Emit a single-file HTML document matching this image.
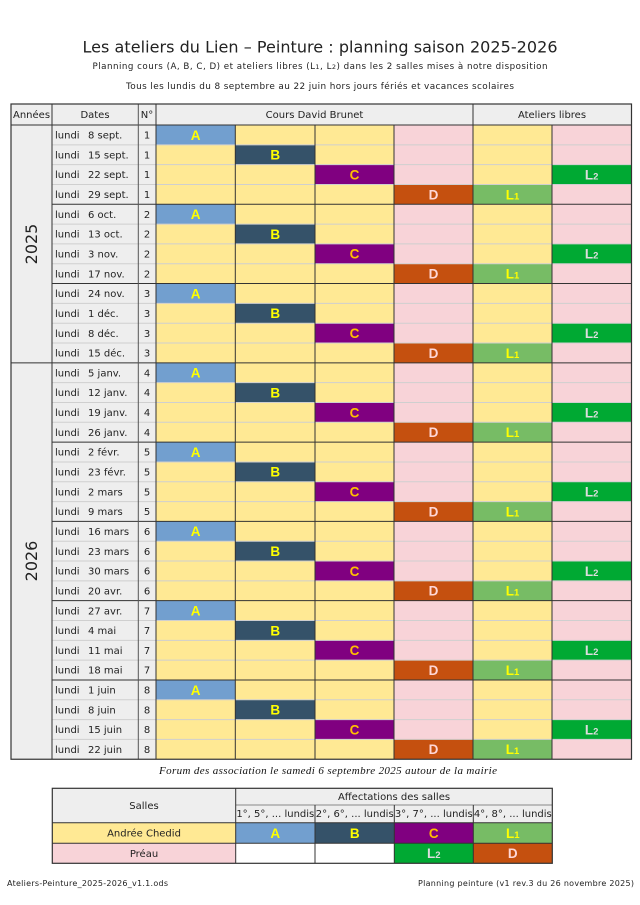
<!DOCTYPE html>
<html><head><meta charset="utf-8"><style>
html,body{margin:0;padding:0;background:#fff;}
svg{display:block;}
.t{font-family:"DejaVu Sans","Liberation Sans",sans-serif;fill:#222;}
.d{font-family:"DejaVu Sans","Liberation Sans",sans-serif;font-size:10px;fill:#222;}
.n{font-family:"DejaVu Sans","Liberation Sans",sans-serif;font-size:10px;fill:#222;text-anchor:middle;}
.lt{font-family:"Liberation Sans","DejaVu Sans",sans-serif;font-weight:bold;font-size:13.5px;text-anchor:middle;}
.ll{stroke:#cfcfcf;stroke-width:1;}
.dk{stroke:#333;stroke-width:1;}
</style></head><body>
<svg width="640" height="905" viewBox="0 0 640 905" xmlns="http://www.w3.org/2000/svg">
<rect width="640" height="905" fill="#fff"/>
<!-- titles -->
<text class="t" x="320" y="52.5" font-size="16" text-anchor="middle" textLength="475" fill="#111">Les ateliers du Lien – Peinture : planning saison 2025-2026</text>
<text class="t" x="320" y="69" font-size="8.7" text-anchor="middle" textLength="455" fill="#333">Planning cours (A, B, C, D) et ateliers libres (L<tspan font-size="6.5">1</tspan>, L<tspan font-size="6.5">2</tspan>) dans les 2 salles mises à notre disposition</text>
<text class="t" x="320" y="89" font-size="8.9" text-anchor="middle" textLength="388" fill="#333">Tous les lundis du 8 septembre au 22 juin hors jours fériés et vacances scolaires</text>

<!-- backgrounds -->
<rect x="11" y="104" width="620.5" height="21" fill="#eeeeee"/>
<rect x="11" y="125" width="145" height="634.24" fill="#eeeeee"/>
<rect x="156" y="125" width="238" height="634.24" fill="#ffe994"/>
<rect x="394" y="125" width="79" height="634.24" fill="#f8d3d8"/>
<rect x="473" y="125" width="79" height="634.24" fill="#ffe994"/>
<rect x="552" y="125" width="79.5" height="634.24" fill="#f8d3d8"/>

<!-- header text -->
<text class="d" x="13" y="118">Années</text>
<text class="n" x="95" y="118">Dates</text>
<text class="n" x="147" y="118">N°</text>
<text class="n" x="314.5" y="118">Cours David Brunet</text>
<text class="n" x="552" y="118">Ateliers libres</text>

<!-- years -->
<text class="t" font-size="16" fill="#333" text-anchor="middle" transform="translate(37,244) rotate(-90)">2025</text>
<text class="t" font-size="16" fill="#333" text-anchor="middle" transform="translate(37,561) rotate(-90)">2026</text>

<!-- group 0 -->
<g transform="translate(0,125)">
<rect x="156" y="0" width="79.3" height="19.82" fill="#729fcf"/>
<rect x="235.3" y="19.82" width="79.7" height="19.82" fill="#355269"/>
<rect x="315" y="39.64" width="79" height="19.82" fill="#800080"/>
<rect x="552" y="39.64" width="79.5" height="19.82" fill="#00a933"/>
<rect x="394" y="59.46" width="79" height="19.82" fill="#c5500f"/>
<rect x="473" y="59.46" width="79" height="19.82" fill="#77bc65"/>
<line class="ll" x1="52" y1="19.82" x2="631.5" y2="19.82"/><line class="ll" x1="52" y1="39.64" x2="631.5" y2="39.64"/><line class="ll" x1="52" y1="59.46" x2="631.5" y2="59.46"/>
<text class="lt" x="195.6" y="14.8" fill="#ffff00">A</text>
<text class="lt" x="275.2" y="34.62" fill="#ffff00">B</text>
<text class="lt" x="354.5" y="54.44" fill="#ffbf00">C</text>
<text class="lt" x="591.7" y="54.44" fill="#dddddd">L<tspan font-size="9.5">2</tspan></text>
<text class="lt" x="433.5" y="74.26" fill="#ffd7d7">D</text>
<text class="lt" x="512.5" y="74.26" fill="#ffff00">L<tspan font-size="9.5">1</tspan></text>
<text class="d" x="55" y="13.6">lundi</text><text class="d" x="88" y="13.6">8 sept.</text><text class="n" x="147" y="13.6">1</text>
<text class="d" x="55" y="33.42">lundi</text><text class="d" x="88" y="33.42">15 sept.</text><text class="n" x="147" y="33.42">1</text>
<text class="d" x="55" y="53.24">lundi</text><text class="d" x="88" y="53.24">22 sept.</text><text class="n" x="147" y="53.24">1</text>
<text class="d" x="55" y="73.06">lundi</text><text class="d" x="88" y="73.06">29 sept.</text><text class="n" x="147" y="73.06">1</text>
</g>
<!-- group 1 -->
<g transform="translate(0,204.28)">
<rect x="156" y="0" width="79.3" height="19.82" fill="#729fcf"/>
<rect x="235.3" y="19.82" width="79.7" height="19.82" fill="#355269"/>
<rect x="315" y="39.64" width="79" height="19.82" fill="#800080"/>
<rect x="552" y="39.64" width="79.5" height="19.82" fill="#00a933"/>
<rect x="394" y="59.46" width="79" height="19.82" fill="#c5500f"/>
<rect x="473" y="59.46" width="79" height="19.82" fill="#77bc65"/>
<line class="ll" x1="52" y1="19.82" x2="631.5" y2="19.82"/><line class="ll" x1="52" y1="39.64" x2="631.5" y2="39.64"/><line class="ll" x1="52" y1="59.46" x2="631.5" y2="59.46"/>
<text class="lt" x="195.6" y="14.8" fill="#ffff00">A</text>
<text class="lt" x="275.2" y="34.62" fill="#ffff00">B</text>
<text class="lt" x="354.5" y="54.44" fill="#ffbf00">C</text>
<text class="lt" x="591.7" y="54.44" fill="#dddddd">L<tspan font-size="9.5">2</tspan></text>
<text class="lt" x="433.5" y="74.26" fill="#ffd7d7">D</text>
<text class="lt" x="512.5" y="74.26" fill="#ffff00">L<tspan font-size="9.5">1</tspan></text>
<text class="d" x="55" y="13.6">lundi</text><text class="d" x="88" y="13.6">6 oct.</text><text class="n" x="147" y="13.6">2</text>
<text class="d" x="55" y="33.42">lundi</text><text class="d" x="88" y="33.42">13 oct.</text><text class="n" x="147" y="33.42">2</text>
<text class="d" x="55" y="53.24">lundi</text><text class="d" x="88" y="53.24">3 nov.</text><text class="n" x="147" y="53.24">2</text>
<text class="d" x="55" y="73.06">lundi</text><text class="d" x="88" y="73.06">17 nov.</text><text class="n" x="147" y="73.06">2</text>
</g>
<!-- group 2 -->
<g transform="translate(0,283.56)">
<rect x="156" y="0" width="79.3" height="19.82" fill="#729fcf"/>
<rect x="235.3" y="19.82" width="79.7" height="19.82" fill="#355269"/>
<rect x="315" y="39.64" width="79" height="19.82" fill="#800080"/>
<rect x="552" y="39.64" width="79.5" height="19.82" fill="#00a933"/>
<rect x="394" y="59.46" width="79" height="19.82" fill="#c5500f"/>
<rect x="473" y="59.46" width="79" height="19.82" fill="#77bc65"/>
<line class="ll" x1="52" y1="19.82" x2="631.5" y2="19.82"/><line class="ll" x1="52" y1="39.64" x2="631.5" y2="39.64"/><line class="ll" x1="52" y1="59.46" x2="631.5" y2="59.46"/>
<text class="lt" x="195.6" y="14.8" fill="#ffff00">A</text>
<text class="lt" x="275.2" y="34.62" fill="#ffff00">B</text>
<text class="lt" x="354.5" y="54.44" fill="#ffbf00">C</text>
<text class="lt" x="591.7" y="54.44" fill="#dddddd">L<tspan font-size="9.5">2</tspan></text>
<text class="lt" x="433.5" y="74.26" fill="#ffd7d7">D</text>
<text class="lt" x="512.5" y="74.26" fill="#ffff00">L<tspan font-size="9.5">1</tspan></text>
<text class="d" x="55" y="13.6">lundi</text><text class="d" x="88" y="13.6">24 nov.</text><text class="n" x="147" y="13.6">3</text>
<text class="d" x="55" y="33.42">lundi</text><text class="d" x="88" y="33.42">1 déc.</text><text class="n" x="147" y="33.42">3</text>
<text class="d" x="55" y="53.24">lundi</text><text class="d" x="88" y="53.24">8 déc.</text><text class="n" x="147" y="53.24">3</text>
<text class="d" x="55" y="73.06">lundi</text><text class="d" x="88" y="73.06">15 déc.</text><text class="n" x="147" y="73.06">3</text>
</g>
<!-- group 3 -->
<g transform="translate(0,362.84)">
<rect x="156" y="0" width="79.3" height="19.82" fill="#729fcf"/>
<rect x="235.3" y="19.82" width="79.7" height="19.82" fill="#355269"/>
<rect x="315" y="39.64" width="79" height="19.82" fill="#800080"/>
<rect x="552" y="39.64" width="79.5" height="19.82" fill="#00a933"/>
<rect x="394" y="59.46" width="79" height="19.82" fill="#c5500f"/>
<rect x="473" y="59.46" width="79" height="19.82" fill="#77bc65"/>
<line class="ll" x1="52" y1="19.82" x2="631.5" y2="19.82"/><line class="ll" x1="52" y1="39.64" x2="631.5" y2="39.64"/><line class="ll" x1="52" y1="59.46" x2="631.5" y2="59.46"/>
<text class="lt" x="195.6" y="14.8" fill="#ffff00">A</text>
<text class="lt" x="275.2" y="34.62" fill="#ffff00">B</text>
<text class="lt" x="354.5" y="54.44" fill="#ffbf00">C</text>
<text class="lt" x="591.7" y="54.44" fill="#dddddd">L<tspan font-size="9.5">2</tspan></text>
<text class="lt" x="433.5" y="74.26" fill="#ffd7d7">D</text>
<text class="lt" x="512.5" y="74.26" fill="#ffff00">L<tspan font-size="9.5">1</tspan></text>
<text class="d" x="55" y="13.6">lundi</text><text class="d" x="88" y="13.6">5 janv.</text><text class="n" x="147" y="13.6">4</text>
<text class="d" x="55" y="33.42">lundi</text><text class="d" x="88" y="33.42">12 janv.</text><text class="n" x="147" y="33.42">4</text>
<text class="d" x="55" y="53.24">lundi</text><text class="d" x="88" y="53.24">19 janv.</text><text class="n" x="147" y="53.24">4</text>
<text class="d" x="55" y="73.06">lundi</text><text class="d" x="88" y="73.06">26 janv.</text><text class="n" x="147" y="73.06">4</text>
</g>
<!-- group 4 -->
<g transform="translate(0,442.12)">
<rect x="156" y="0" width="79.3" height="19.82" fill="#729fcf"/>
<rect x="235.3" y="19.82" width="79.7" height="19.82" fill="#355269"/>
<rect x="315" y="39.64" width="79" height="19.82" fill="#800080"/>
<rect x="552" y="39.64" width="79.5" height="19.82" fill="#00a933"/>
<rect x="394" y="59.46" width="79" height="19.82" fill="#c5500f"/>
<rect x="473" y="59.46" width="79" height="19.82" fill="#77bc65"/>
<line class="ll" x1="52" y1="19.82" x2="631.5" y2="19.82"/><line class="ll" x1="52" y1="39.64" x2="631.5" y2="39.64"/><line class="ll" x1="52" y1="59.46" x2="631.5" y2="59.46"/>
<text class="lt" x="195.6" y="14.8" fill="#ffff00">A</text>
<text class="lt" x="275.2" y="34.62" fill="#ffff00">B</text>
<text class="lt" x="354.5" y="54.44" fill="#ffbf00">C</text>
<text class="lt" x="591.7" y="54.44" fill="#dddddd">L<tspan font-size="9.5">2</tspan></text>
<text class="lt" x="433.5" y="74.26" fill="#ffd7d7">D</text>
<text class="lt" x="512.5" y="74.26" fill="#ffff00">L<tspan font-size="9.5">1</tspan></text>
<text class="d" x="55" y="13.6">lundi</text><text class="d" x="88" y="13.6">2 févr.</text><text class="n" x="147" y="13.6">5</text>
<text class="d" x="55" y="33.42">lundi</text><text class="d" x="88" y="33.42">23 févr.</text><text class="n" x="147" y="33.42">5</text>
<text class="d" x="55" y="53.24">lundi</text><text class="d" x="88" y="53.24">2 mars</text><text class="n" x="147" y="53.24">5</text>
<text class="d" x="55" y="73.06">lundi</text><text class="d" x="88" y="73.06">9 mars</text><text class="n" x="147" y="73.06">5</text>
</g>
<!-- group 5 -->
<g transform="translate(0,521.40)">
<rect x="156" y="0" width="79.3" height="19.82" fill="#729fcf"/>
<rect x="235.3" y="19.82" width="79.7" height="19.82" fill="#355269"/>
<rect x="315" y="39.64" width="79" height="19.82" fill="#800080"/>
<rect x="552" y="39.64" width="79.5" height="19.82" fill="#00a933"/>
<rect x="394" y="59.46" width="79" height="19.82" fill="#c5500f"/>
<rect x="473" y="59.46" width="79" height="19.82" fill="#77bc65"/>
<line class="ll" x1="52" y1="19.82" x2="631.5" y2="19.82"/><line class="ll" x1="52" y1="39.64" x2="631.5" y2="39.64"/><line class="ll" x1="52" y1="59.46" x2="631.5" y2="59.46"/>
<text class="lt" x="195.6" y="14.8" fill="#ffff00">A</text>
<text class="lt" x="275.2" y="34.62" fill="#ffff00">B</text>
<text class="lt" x="354.5" y="54.44" fill="#ffbf00">C</text>
<text class="lt" x="591.7" y="54.44" fill="#dddddd">L<tspan font-size="9.5">2</tspan></text>
<text class="lt" x="433.5" y="74.26" fill="#ffd7d7">D</text>
<text class="lt" x="512.5" y="74.26" fill="#ffff00">L<tspan font-size="9.5">1</tspan></text>
<text class="d" x="55" y="13.6">lundi</text><text class="d" x="88" y="13.6">16 mars</text><text class="n" x="147" y="13.6">6</text>
<text class="d" x="55" y="33.42">lundi</text><text class="d" x="88" y="33.42">23 mars</text><text class="n" x="147" y="33.42">6</text>
<text class="d" x="55" y="53.24">lundi</text><text class="d" x="88" y="53.24">30 mars</text><text class="n" x="147" y="53.24">6</text>
<text class="d" x="55" y="73.06">lundi</text><text class="d" x="88" y="73.06">20 avr.</text><text class="n" x="147" y="73.06">6</text>
</g>
<!-- group 6 -->
<g transform="translate(0,600.68)">
<rect x="156" y="0" width="79.3" height="19.82" fill="#729fcf"/>
<rect x="235.3" y="19.82" width="79.7" height="19.82" fill="#355269"/>
<rect x="315" y="39.64" width="79" height="19.82" fill="#800080"/>
<rect x="552" y="39.64" width="79.5" height="19.82" fill="#00a933"/>
<rect x="394" y="59.46" width="79" height="19.82" fill="#c5500f"/>
<rect x="473" y="59.46" width="79" height="19.82" fill="#77bc65"/>
<line class="ll" x1="52" y1="19.82" x2="631.5" y2="19.82"/><line class="ll" x1="52" y1="39.64" x2="631.5" y2="39.64"/><line class="ll" x1="52" y1="59.46" x2="631.5" y2="59.46"/>
<text class="lt" x="195.6" y="14.8" fill="#ffff00">A</text>
<text class="lt" x="275.2" y="34.62" fill="#ffff00">B</text>
<text class="lt" x="354.5" y="54.44" fill="#ffbf00">C</text>
<text class="lt" x="591.7" y="54.44" fill="#dddddd">L<tspan font-size="9.5">2</tspan></text>
<text class="lt" x="433.5" y="74.26" fill="#ffd7d7">D</text>
<text class="lt" x="512.5" y="74.26" fill="#ffff00">L<tspan font-size="9.5">1</tspan></text>
<text class="d" x="55" y="13.6">lundi</text><text class="d" x="88" y="13.6">27 avr.</text><text class="n" x="147" y="13.6">7</text>
<text class="d" x="55" y="33.42">lundi</text><text class="d" x="88" y="33.42">4 mai</text><text class="n" x="147" y="33.42">7</text>
<text class="d" x="55" y="53.24">lundi</text><text class="d" x="88" y="53.24">11 mai</text><text class="n" x="147" y="53.24">7</text>
<text class="d" x="55" y="73.06">lundi</text><text class="d" x="88" y="73.06">18 mai</text><text class="n" x="147" y="73.06">7</text>
</g>
<!-- group 7 -->
<g transform="translate(0,679.96)">
<rect x="156" y="0" width="79.3" height="19.82" fill="#729fcf"/>
<rect x="235.3" y="19.82" width="79.7" height="19.82" fill="#355269"/>
<rect x="315" y="39.64" width="79" height="19.82" fill="#800080"/>
<rect x="552" y="39.64" width="79.5" height="19.82" fill="#00a933"/>
<rect x="394" y="59.46" width="79" height="19.82" fill="#c5500f"/>
<rect x="473" y="59.46" width="79" height="19.82" fill="#77bc65"/>
<line class="ll" x1="52" y1="19.82" x2="631.5" y2="19.82"/><line class="ll" x1="52" y1="39.64" x2="631.5" y2="39.64"/><line class="ll" x1="52" y1="59.46" x2="631.5" y2="59.46"/>
<text class="lt" x="195.6" y="14.8" fill="#ffff00">A</text>
<text class="lt" x="275.2" y="34.62" fill="#ffff00">B</text>
<text class="lt" x="354.5" y="54.44" fill="#ffbf00">C</text>
<text class="lt" x="591.7" y="54.44" fill="#dddddd">L<tspan font-size="9.5">2</tspan></text>
<text class="lt" x="433.5" y="74.26" fill="#ffd7d7">D</text>
<text class="lt" x="512.5" y="74.26" fill="#ffff00">L<tspan font-size="9.5">1</tspan></text>
<text class="d" x="55" y="13.6">lundi</text><text class="d" x="88" y="13.6">1 juin</text><text class="n" x="147" y="13.6">8</text>
<text class="d" x="55" y="33.42">lundi</text><text class="d" x="88" y="33.42">8 juin</text><text class="n" x="147" y="33.42">8</text>
<text class="d" x="55" y="53.24">lundi</text><text class="d" x="88" y="53.24">15 juin</text><text class="n" x="147" y="53.24">8</text>
<text class="d" x="55" y="73.06">lundi</text><text class="d" x="88" y="73.06">22 juin</text><text class="n" x="147" y="73.06">8</text>
</g>

<!-- group (dark) horizontal lines -->
<line class="dk" x1="11" y1="125" x2="631.5" y2="125"/>
<line class="dk" x1="52" y1="204.28" x2="631.5" y2="204.28"/>
<line class="dk" x1="52" y1="283.56" x2="631.5" y2="283.56"/>
<line class="dk" x1="11" y1="362.84" x2="631.5" y2="362.84"/>
<line class="dk" x1="52" y1="442.12" x2="631.5" y2="442.12"/>
<line class="dk" x1="52" y1="521.40" x2="631.5" y2="521.40"/>
<line class="dk" x1="52" y1="600.68" x2="631.5" y2="600.68"/>
<line class="dk" x1="52" y1="679.96" x2="631.5" y2="679.96"/>
<!-- vertical lines -->
<line class="dk" x1="52" y1="104" x2="52" y2="759.24"/>
<line x1="138.3" y1="104" x2="138.3" y2="759.24" stroke="#555" stroke-width="1"/>
<line class="dk" x1="156" y1="104" x2="156" y2="759.24"/>
<line class="dk" x1="235.3" y1="125" x2="235.3" y2="759.24"/>
<line class="dk" x1="315" y1="125" x2="315" y2="759.24"/>
<line class="dk" x1="394" y1="125" x2="394" y2="759.24"/>
<line class="dk" x1="473" y1="104" x2="473" y2="759.24"/>
<line class="dk" x1="552" y1="125" x2="552" y2="759.24"/>
<rect x="11" y="104" width="620.5" height="655.24" fill="none" stroke="#333" stroke-width="1.2"/>

<!-- forum line -->
<text x="328" y="774" font-family="'Liberation Serif',serif" font-style="italic" font-size="11" text-anchor="middle" fill="#111" textLength="338">Forum des association le samedi 6 septembre 2025 autour de la mairie</text>

<!-- legend table -->
<rect x="52.3" y="788.3" width="500" height="34.4" fill="#eeeeee"/>
<rect x="52.3" y="822.7" width="183.4" height="20.6" fill="#ffe994"/>
<rect x="52.3" y="843.3" width="183.4" height="20" fill="#f8d3d8"/>
<rect x="235.7" y="822.7" width="79.3" height="20.6" fill="#729fcf"/>
<rect x="315" y="822.7" width="79.3" height="20.6" fill="#355269"/>
<rect x="394.3" y="822.7" width="79" height="20.6" fill="#800080"/>
<rect x="473.3" y="822.7" width="79" height="20.6" fill="#77bc65"/>
<rect x="235.7" y="843.3" width="158.6" height="20" fill="#ffffff"/>
<rect x="394.3" y="843.3" width="79" height="20" fill="#00a933"/>
<rect x="473.3" y="843.3" width="79" height="20" fill="#c5500f"/>
<line x1="235.7" y1="805" x2="552.3" y2="805" stroke="#888" stroke-width="1"/>
<line class="dk" x1="52.3" y1="822.7" x2="552.3" y2="822.7"/>
<line class="dk" x1="52.3" y1="843.3" x2="552.3" y2="843.3"/>
<line class="dk" x1="235.7" y1="788.3" x2="235.7" y2="863.3"/>
<line class="dk" x1="315" y1="805" x2="315" y2="863.3"/>
<line class="dk" x1="394.3" y1="805" x2="394.3" y2="863.3"/>
<line class="dk" x1="473.3" y1="805" x2="473.3" y2="863.3"/>
<rect x="52.3" y="788.3" width="500" height="75" fill="none" stroke="#333" stroke-width="1.2"/>
<text class="n" x="144" y="809">Salles</text>
<text class="n" x="394" y="800">Affectations des salles</text>
<text class="n" x="275.3" y="817" font-size="9.4">1°, 5°, ... lundis</text>
<text class="n" x="354.7" y="817" font-size="9.4">2°, 6°, ... lundis</text>
<text class="n" x="433.8" y="817" font-size="9.4">3°, 7°, ... lundis</text>
<text class="n" x="512.8" y="817" font-size="9.4">4°, 8°, ... lundis</text>
<text class="n" x="144" y="836.5">Andrée Chedid</text>
<text class="n" x="144" y="857">Préau</text>
<text class="lt" x="275.3" y="837.8" fill="#ffff00">A</text>
<text class="lt" x="354.7" y="837.8" fill="#ffff00">B</text>
<text class="lt" x="433.8" y="837.8" fill="#ffbf00">C</text>
<text class="lt" x="512.8" y="837.8" fill="#ffff00">L<tspan font-size="9.5">1</tspan></text>
<text class="lt" x="433.8" y="858.2" fill="#dddddd">L<tspan font-size="9.5">2</tspan></text>
<text class="lt" x="512.8" y="858.2" fill="#ffd7d7">D</text>

<!-- footer -->
<text class="t" x="7" y="886" font-size="8" textLength="161" fill="#222">Ateliers-Peinture_2025-2026_v1.1.ods</text>
<text class="t" x="634" y="886" font-size="8" text-anchor="end" textLength="216" fill="#222">Planning peinture (v1 rev.3 du 26 novembre 2025)</text>
</svg>
</body></html>
